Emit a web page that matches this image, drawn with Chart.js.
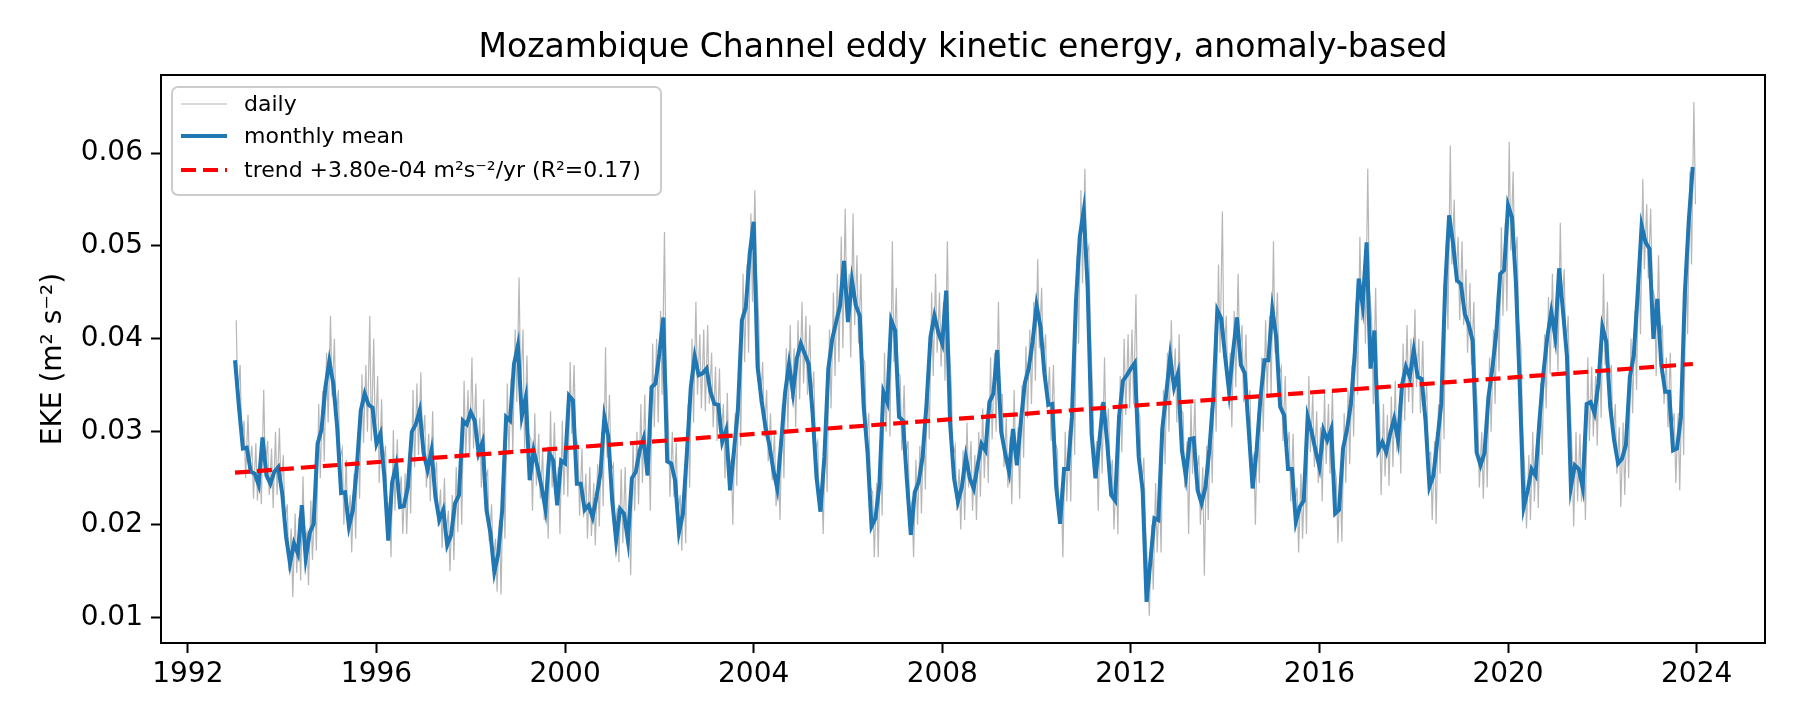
<!DOCTYPE html>
<html>
<head>
<meta charset="utf-8">
<title>Mozambique Channel EKE</title>
<script src="https://cdn.jsdelivr.net/npm/chart.js@4.4.1/dist/chart.umd.min.js"></script>
<style>
  html, body { margin: 0; padding: 0; background: #fff; }
  #wrap { width: 1800px; height: 720px; }
</style>
</head>
<body>
<div id="wrap"><canvas id="ekeChart" width="1800" height="720"></canvas></div>
<script>
// monthly values start Jan 1993, one row per year
const startYear = 1993;
const monthlyMean = [
  0.0377, 0.0327, 0.0282, 0.0283, 0.0257, 0.0255, 0.0243, 0.0294, 0.0253, 0.0244, 0.0257, 0.0262,
  0.0234, 0.0187, 0.0158, 0.0180, 0.0169, 0.0221, 0.0164, 0.0191, 0.0201, 0.0287, 0.0302, 0.0348,
  0.0376, 0.0352, 0.0305, 0.0234, 0.0235, 0.0198, 0.0216, 0.0262, 0.0323, 0.0341, 0.0329, 0.0326,
  0.0287, 0.0298, 0.0252, 0.0183, 0.0246, 0.0264, 0.0219, 0.0220, 0.0241, 0.0300, 0.0308, 0.0323,
  0.0277, 0.0259, 0.0280, 0.0230, 0.0205, 0.0216, 0.0178, 0.0189, 0.0223, 0.0232, 0.0312, 0.0308,
  0.0321, 0.0312, 0.0277, 0.0289, 0.0216, 0.0191, 0.0149, 0.0169, 0.0216, 0.0316, 0.0312, 0.0373,
  0.0393, 0.0317, 0.0337, 0.0248, 0.0280, 0.0262, 0.0241, 0.0217, 0.0277, 0.0269, 0.0221, 0.0269,
  0.0266, 0.0339, 0.0334, 0.0244, 0.0244, 0.0216, 0.0221, 0.0208, 0.0230, 0.0255, 0.0316, 0.0295,
  0.0226, 0.0183, 0.0217, 0.0212, 0.0183, 0.0250, 0.0257, 0.0280, 0.0293, 0.0253, 0.0348, 0.0352,
  0.0384, 0.0423, 0.0268, 0.0266, 0.0248, 0.0192, 0.0212, 0.0277, 0.0348, 0.0381, 0.0361, 0.0363,
  0.0368, 0.0343, 0.0330, 0.0329, 0.0289, 0.0302, 0.0237, 0.0280, 0.0325, 0.0420, 0.0434, 0.0492,
  0.0526, 0.0370, 0.0334, 0.0305, 0.0286, 0.0259, 0.0239, 0.0289, 0.0342, 0.0373, 0.0342, 0.0379,
  0.0395, 0.0384, 0.0373, 0.0320, 0.0251, 0.0214, 0.0273, 0.0368, 0.0400, 0.0418, 0.0436, 0.0484,
  0.0418, 0.0463, 0.0436, 0.0425, 0.0327, 0.0277, 0.0198, 0.0207, 0.0243, 0.0343, 0.0332, 0.0420,
  0.0409, 0.0316, 0.0312, 0.0248, 0.0189, 0.0235, 0.0246, 0.0273, 0.0330, 0.0402, 0.0425, 0.0407,
  0.0395, 0.0452, 0.0309, 0.0250, 0.0225, 0.0241, 0.0273, 0.0250, 0.0239, 0.0264, 0.0287, 0.0280,
  0.0332, 0.0341, 0.0388, 0.0300, 0.0277, 0.0257, 0.0303, 0.0264, 0.0311, 0.0352, 0.0368, 0.0397,
  0.0436, 0.0413, 0.0363, 0.0329, 0.0330, 0.0241, 0.0201, 0.0260, 0.0260, 0.0316, 0.0438, 0.0510,
  0.0538, 0.0456, 0.0298, 0.0250, 0.0291, 0.0332, 0.0287, 0.0232, 0.0226, 0.0316, 0.0355, 0.0361,
  0.0368, 0.0374, 0.0273, 0.0237, 0.0117, 0.0162, 0.0207, 0.0205, 0.0303, 0.0341, 0.0381, 0.0348,
  0.0363, 0.0280, 0.0252, 0.0292, 0.0293, 0.0237, 0.0223, 0.0241, 0.0282, 0.0337, 0.0431, 0.0422,
  0.0381, 0.0343, 0.0386, 0.0423, 0.0372, 0.0363, 0.0302, 0.0239, 0.0280, 0.0337, 0.0377, 0.0377,
  0.0432, 0.0402, 0.0327, 0.0318, 0.0260, 0.0260, 0.0203, 0.0219, 0.0226, 0.0316, 0.0300, 0.0280,
  0.0262, 0.0302, 0.0291, 0.0303, 0.0212, 0.0216, 0.0282, 0.0302, 0.0330, 0.0385, 0.0465, 0.0436,
  0.0504, 0.0368, 0.0409, 0.0280, 0.0289, 0.0278, 0.0298, 0.0314, 0.0291, 0.0350, 0.0370, 0.0359,
  0.0388, 0.0359, 0.0357, 0.0312, 0.0241, 0.0253, 0.0291, 0.0330, 0.0456, 0.0533, 0.0503, 0.0463,
  0.0459, 0.0427, 0.0415, 0.0398, 0.0278, 0.0264, 0.0277, 0.0337, 0.0368, 0.0406, 0.0470, 0.0474,
  0.0544, 0.0531, 0.0461, 0.0348, 0.0219, 0.0237, 0.0260, 0.0253, 0.0312, 0.0363, 0.0402, 0.0429,
  0.0402, 0.0476, 0.0429, 0.0381, 0.0240, 0.0264, 0.0260, 0.0240, 0.0330, 0.0332, 0.0320, 0.0352,
  0.0413, 0.0397, 0.0327, 0.0291, 0.0266, 0.0271, 0.0286, 0.0359, 0.0382, 0.0449, 0.0522, 0.0504,
  0.0497, 0.0400, 0.0443, 0.0372, 0.0343, 0.0343, 0.0280, 0.0282, 0.0316, 0.0449, 0.0527, 0.0585
];

// daily series, read as the highest and lowest daily value seen in each month
const dailyHigh = [
  0.0420, 0.0372, 0.0312, 0.0318, 0.0285, 0.0288, 0.0272, 0.0345, 0.0290, 0.0282, 0.0300, 0.0304,
  0.0275, 0.0222, 0.0196, 0.0212, 0.0208, 0.0252, 0.0192, 0.0226, 0.0232, 0.0330, 0.0344, 0.0385,
  0.0425, 0.0400, 0.0345, 0.0282, 0.0270, 0.0232, 0.0255, 0.0300, 0.0362, 0.0372, 0.0425, 0.0400,
  0.0360, 0.0335, 0.0285, 0.0225, 0.0302, 0.0292, 0.0252, 0.0255, 0.0278, 0.0345, 0.0352, 0.0364,
  0.0318, 0.0298, 0.0322, 0.0268, 0.0238, 0.0250, 0.0215, 0.0232, 0.0262, 0.0282, 0.0355, 0.0345,
  0.0380, 0.0352, 0.0315, 0.0335, 0.0258, 0.0222, 0.0185, 0.0205, 0.0262, 0.0352, 0.0358, 0.0410,
  0.0466, 0.0410, 0.0382, 0.0292, 0.0320, 0.0298, 0.0280, 0.0252, 0.0322, 0.0310, 0.0262, 0.0312,
  0.0305, 0.0375, 0.0372, 0.0285, 0.0282, 0.0255, 0.0262, 0.0245, 0.0265, 0.0300, 0.0391, 0.0340,
  0.0265, 0.0218, 0.0260, 0.0262, 0.0220, 0.0290, 0.0300, 0.0330, 0.0340, 0.0290, 0.0395, 0.0400,
  0.0430, 0.0515, 0.0310, 0.0300, 0.0288, 0.0232, 0.0250, 0.0330, 0.0400, 0.0440, 0.0405, 0.0410,
  0.0415, 0.0385, 0.0370, 0.0368, 0.0330, 0.0342, 0.0270, 0.0320, 0.0370, 0.0470, 0.0480, 0.0535,
  0.0560, 0.0420, 0.0375, 0.0345, 0.0320, 0.0300, 0.0275, 0.0330, 0.0390, 0.0415, 0.0390, 0.0420,
  0.0440, 0.0425, 0.0415, 0.0365, 0.0290, 0.0245, 0.0310, 0.0410, 0.0450, 0.0470, 0.0510, 0.0540,
  0.0470, 0.0535, 0.0490, 0.0470, 0.0375, 0.0320, 0.0235, 0.0245, 0.0290, 0.0385, 0.0380, 0.0505,
  0.0455, 0.0360, 0.0350, 0.0290, 0.0225, 0.0270, 0.0285, 0.0315, 0.0375, 0.0450, 0.0470, 0.0450,
  0.0440, 0.0505, 0.0350, 0.0285, 0.0260, 0.0280, 0.0310, 0.0290, 0.0275, 0.0300, 0.0325, 0.0320,
  0.0380, 0.0385, 0.0440, 0.0340, 0.0315, 0.0295, 0.0345, 0.0305, 0.0350, 0.0392, 0.0410, 0.0440,
  0.0486, 0.0455, 0.0405, 0.0370, 0.0372, 0.0280, 0.0240, 0.0300, 0.0302, 0.0360, 0.0490, 0.0560,
  0.0583, 0.0500, 0.0340, 0.0290, 0.0330, 0.0380, 0.0325, 0.0270, 0.0262, 0.0360, 0.0400, 0.0405,
  0.0410, 0.0448, 0.0315, 0.0272, 0.0150, 0.0200, 0.0245, 0.0242, 0.0345, 0.0385, 0.0420, 0.0390,
  0.0405, 0.0320, 0.0290, 0.0330, 0.0335, 0.0275, 0.0262, 0.0285, 0.0325, 0.0385, 0.0480, 0.0537,
  0.0425, 0.0385, 0.0430, 0.0470, 0.0415, 0.0405, 0.0345, 0.0275, 0.0320, 0.0380, 0.0420, 0.0425,
  0.0505, 0.0450, 0.0370, 0.0360, 0.0300, 0.0298, 0.0240, 0.0255, 0.0262, 0.0360, 0.0340, 0.0322,
  0.0305, 0.0342, 0.0330, 0.0345, 0.0250, 0.0252, 0.0320, 0.0345, 0.0372, 0.0440, 0.0510, 0.0480,
  0.0583, 0.0420, 0.0455, 0.0320, 0.0330, 0.0318, 0.0338, 0.0355, 0.0330, 0.0395, 0.0415, 0.0400,
  0.0432, 0.0400, 0.0398, 0.0350, 0.0278, 0.0290, 0.0330, 0.0380, 0.0505, 0.0608, 0.0550, 0.0510,
  0.0505, 0.0475, 0.0460, 0.0440, 0.0320, 0.0300, 0.0315, 0.0380, 0.0410, 0.0450, 0.0520, 0.0525,
  0.0612, 0.0580, 0.0510, 0.0390, 0.0255, 0.0275, 0.0300, 0.0292, 0.0352, 0.0405, 0.0445, 0.0470,
  0.0445, 0.0525, 0.0475, 0.0425, 0.0278, 0.0300, 0.0298, 0.0278, 0.0380, 0.0370, 0.0360, 0.0395,
  0.0470, 0.0440, 0.0372, 0.0330, 0.0305, 0.0310, 0.0328, 0.0400, 0.0430, 0.0495, 0.0572, 0.0545,
  0.0540, 0.0445, 0.0490, 0.0415, 0.0380, 0.0385, 0.0320, 0.0320, 0.0360, 0.0490, 0.0580, 0.0655
];
const dailyLow = [
  0.0338, 0.0290, 0.0250, 0.0262, 0.0228, 0.0226, 0.0222, 0.0262, 0.0232, 0.0218, 0.0232, 0.0238,
  0.0205, 0.0150, 0.0122, 0.0148, 0.0140, 0.0180, 0.0135, 0.0162, 0.0172, 0.0250, 0.0268, 0.0310,
  0.0338, 0.0310, 0.0270, 0.0200, 0.0195, 0.0170, 0.0185, 0.0228, 0.0288, 0.0300, 0.0290, 0.0290,
  0.0245, 0.0262, 0.0205, 0.0165, 0.0215, 0.0228, 0.0190, 0.0190, 0.0212, 0.0262, 0.0275, 0.0285,
  0.0240, 0.0225, 0.0245, 0.0198, 0.0175, 0.0188, 0.0150, 0.0162, 0.0192, 0.0200, 0.0272, 0.0272,
  0.0282, 0.0270, 0.0240, 0.0250, 0.0182, 0.0158, 0.0128, 0.0125, 0.0185, 0.0275, 0.0278, 0.0332,
  0.0345, 0.0282, 0.0298, 0.0215, 0.0242, 0.0228, 0.0205, 0.0185, 0.0240, 0.0235, 0.0190, 0.0232,
  0.0230, 0.0298, 0.0295, 0.0210, 0.0208, 0.0185, 0.0188, 0.0178, 0.0198, 0.0220, 0.0272, 0.0258,
  0.0192, 0.0160, 0.0180, 0.0180, 0.0146, 0.0215, 0.0222, 0.0245, 0.0255, 0.0215, 0.0305, 0.0310,
  0.0340, 0.0370, 0.0230, 0.0230, 0.0212, 0.0172, 0.0180, 0.0240, 0.0310, 0.0340, 0.0325, 0.0322,
  0.0330, 0.0305, 0.0290, 0.0292, 0.0250, 0.0262, 0.0200, 0.0242, 0.0285, 0.0375, 0.0385, 0.0440,
  0.0475, 0.0330, 0.0295, 0.0268, 0.0248, 0.0220, 0.0205, 0.0250, 0.0300, 0.0335, 0.0305, 0.0335,
  0.0352, 0.0340, 0.0330, 0.0280, 0.0215, 0.0190, 0.0235, 0.0325, 0.0360, 0.0375, 0.0390, 0.0435,
  0.0380, 0.0415, 0.0395, 0.0380, 0.0290, 0.0240, 0.0165, 0.0165, 0.0210, 0.0300, 0.0295, 0.0375,
  0.0365, 0.0280, 0.0275, 0.0212, 0.0165, 0.0200, 0.0212, 0.0238, 0.0292, 0.0360, 0.0385, 0.0370,
  0.0355, 0.0400, 0.0272, 0.0215, 0.0195, 0.0205, 0.0240, 0.0215, 0.0205, 0.0230, 0.0250, 0.0245,
  0.0292, 0.0300, 0.0340, 0.0262, 0.0240, 0.0222, 0.0265, 0.0228, 0.0272, 0.0315, 0.0330, 0.0355,
  0.0390, 0.0370, 0.0325, 0.0290, 0.0290, 0.0205, 0.0165, 0.0225, 0.0225, 0.0275, 0.0395, 0.0460,
  0.0490, 0.0410, 0.0262, 0.0215, 0.0255, 0.0292, 0.0250, 0.0195, 0.0190, 0.0278, 0.0318, 0.0325,
  0.0330, 0.0330, 0.0235, 0.0200, 0.0102, 0.0130, 0.0170, 0.0170, 0.0265, 0.0300, 0.0345, 0.0310,
  0.0325, 0.0240, 0.0190, 0.0255, 0.0255, 0.0200, 0.0145, 0.0205, 0.0245, 0.0300, 0.0385, 0.0380,
  0.0340, 0.0305, 0.0348, 0.0380, 0.0332, 0.0325, 0.0265, 0.0200, 0.0245, 0.0300, 0.0340, 0.0338,
  0.0385, 0.0360, 0.0290, 0.0280, 0.0225, 0.0222, 0.0170, 0.0185, 0.0190, 0.0278, 0.0262, 0.0245,
  0.0225, 0.0265, 0.0255, 0.0265, 0.0180, 0.0182, 0.0245, 0.0265, 0.0295, 0.0340, 0.0420, 0.0395,
  0.0455, 0.0330, 0.0365, 0.0232, 0.0252, 0.0242, 0.0262, 0.0278, 0.0255, 0.0312, 0.0332, 0.0320,
  0.0348, 0.0320, 0.0318, 0.0275, 0.0205, 0.0201, 0.0255, 0.0292, 0.0410, 0.0480, 0.0460, 0.0420,
  0.0415, 0.0385, 0.0372, 0.0358, 0.0240, 0.0228, 0.0240, 0.0300, 0.0330, 0.0365, 0.0425, 0.0430,
  0.0495, 0.0482, 0.0420, 0.0305, 0.0196, 0.0205, 0.0225, 0.0218, 0.0275, 0.0325, 0.0362, 0.0390,
  0.0365, 0.0432, 0.0385, 0.0340, 0.0198, 0.0225, 0.0225, 0.0205, 0.0290, 0.0295, 0.0285, 0.0315,
  0.0372, 0.0355, 0.0290, 0.0255, 0.0219, 0.0232, 0.0250, 0.0320, 0.0345, 0.0405, 0.0475, 0.0465,
  0.0455, 0.0360, 0.0400, 0.0330, 0.0305, 0.0305, 0.0245, 0.0237, 0.0275, 0.0405, 0.0480, 0.0545
];

const trendYears = [1993.0, 2023.92];
const trendValues = [0.0256, 0.0373];

const xTicks = [1992, 1996, 2000, 2004, 2008, 2012, 2016, 2020, 2024];
const yTicks = [0.01, 0.02, 0.03, 0.04, 0.05, 0.06];
const xRange = [1991.43, 2025.45];
const yRange = [0.00727, 0.0684];

const titleText = 'Mozambique Channel eddy kinetic energy, anomaly-based';
const yLabel = 'EKE (m\u00B2 s\u207B\u00B2)';
const seriesLabels = ['daily', 'monthly mean', 'trend +3.80e-04 m\u00B2s\u207B\u00B2/yr (R\u00B2=0.17)'];

const FONT = "'DejaVu Sans', 'Liberation Sans', sans-serif";
Chart.defaults.font.family = FONT;
Chart.defaults.color = '#000';

let monthlyPoints = monthlyMean.map((v, i) => ({ x: startYear + i / 12, y: v }));
let dailyPoints = [];
dailyHigh.forEach((hi, i) => {
    dailyPoints.push({ x: startYear + (i + 0.3) / 12, y: hi });
    dailyPoints.push({ x: startYear + (i + 0.7) / 12, y: dailyLow[i] });
});
let trendPoints = trendYears.map((t, i) => ({ x: t, y: trendValues[i] }));

// spines, title and a matplotlib-like legend box
const decorations = {
    id: 'decorations',
    afterDatasetsDraw(chart) {
        const { ctx, chartArea: a } = chart;
        ctx.save();
        ctx.strokeStyle = '#000';
        ctx.lineWidth = 2;
        ctx.strokeRect(a.left, a.top, a.right - a.left, a.bottom - a.top);
        ctx.restore();
    },
    afterDraw(chart) {
        const { ctx, chartArea: a } = chart;
        ctx.save();
        ctx.fillStyle = '#000';
        ctx.font = `33px ${FONT}`;
        ctx.textAlign = 'center';
        ctx.textBaseline = 'middle';
        ctx.fillText(titleText, (a.left + a.right) / 2, 48);

        // legend frame
        let bx = a.left + 11, by = a.top + 12, bw = 489, bh = 108, r = 6;
        ctx.beginPath();
        ctx.moveTo(bx + r, by);
        ctx.arcTo(bx + bw, by, bx + bw, by + bh, r);
        ctx.arcTo(bx + bw, by + bh, bx, by + bh, r);
        ctx.arcTo(bx, by + bh, bx, by, r);
        ctx.arcTo(bx, by, bx + bw, by, r);
        ctx.closePath();
        ctx.fillStyle = 'rgba(255,255,255,0.8)';
        ctx.fill();
        ctx.strokeStyle = '#cccccc';
        ctx.lineWidth = 2;
        ctx.stroke();

        ctx.font = `22px ${FONT}`;
        ctx.textAlign = 'left';
        let rows = [by + 17, by + 49, by + 83];
        chart.data.datasets.forEach((ds, i) => {
            let y = rows[i];
            ctx.beginPath();
            ctx.setLineDash(ds.borderDash || []);
            ctx.strokeStyle = ds.borderColor;
            ctx.lineWidth = ds.borderWidth;
            ctx.moveTo(bx + 9, y);
            ctx.lineTo(bx + 55, y);
            ctx.stroke();
            ctx.setLineDash([]);
            ctx.fillStyle = '#000';
            ctx.fillText(ds.label, bx + 72, y + 1);
        });
        ctx.restore();
    }
};

const tickFont = { family: FONT, size: 28 };

new Chart(document.getElementById('ekeChart'), {
    type: 'line',
    data: {
        datasets: [
            { label: seriesLabels[0], data: dailyPoints, borderColor: 'rgba(135,135,135,0.6)', borderWidth: 1.2, pointRadius: 0, tension: 0, order: 3 },
            { label: seriesLabels[1], data: monthlyPoints, borderColor: '#1f77b4', borderWidth: 4, pointRadius: 0, tension: 0, order: 2 },
            { label: seriesLabels[2], data: trendPoints, borderColor: '#ff0000', borderWidth: 4.2, borderDash: [15, 7], pointRadius: 0, order: 1 }
        ]
    },
    options: {
        responsive: false,
        animation: false,
        layout: { padding: { top: 75, right: 35, bottom: 0, left: 0 } },
        plugins: {
            legend: { display: false },
            tooltip: { enabled: false },
            title: { display: false }
        },
        scales: {
            x: {
                type: 'linear',
                min: xRange[0],
                max: xRange[1],
                afterBuildTicks: s => { s.ticks = xTicks.map(v => ({ value: v })); },
                afterFit: s => { s.height = 77; },
                grid: { drawOnChartArea: false, drawTicks: true, tickLength: 10, tickWidth: 2, tickColor: '#000' },
                border: { display: true, color: '#000', width: 2 },
                ticks: { color: '#000', font: tickFont, padding: 5, maxRotation: 0, autoSkip: false, callback: v => String(v) }
            },
            y: {
                type: 'linear',
                min: yRange[0],
                max: yRange[1],
                afterBuildTicks: s => { s.ticks = yTicks.map(v => ({ value: v })); },
                afterFit: s => { s.width = 161; },
                grid: { drawOnChartArea: false, drawTicks: true, tickLength: 10, tickWidth: 2, tickColor: '#000' },
                border: { display: true, color: '#000', width: 2 },
                ticks: { color: '#000', font: tickFont, padding: 8, autoSkip: false, callback: v => v.toFixed(2) },
                title: { display: true, text: yLabel, color: '#000', font: tickFont, padding: { top: 37, bottom: 0 } }
            }
        }
    },
    plugins: [decorations]
});
</script>
</body>
</html>
